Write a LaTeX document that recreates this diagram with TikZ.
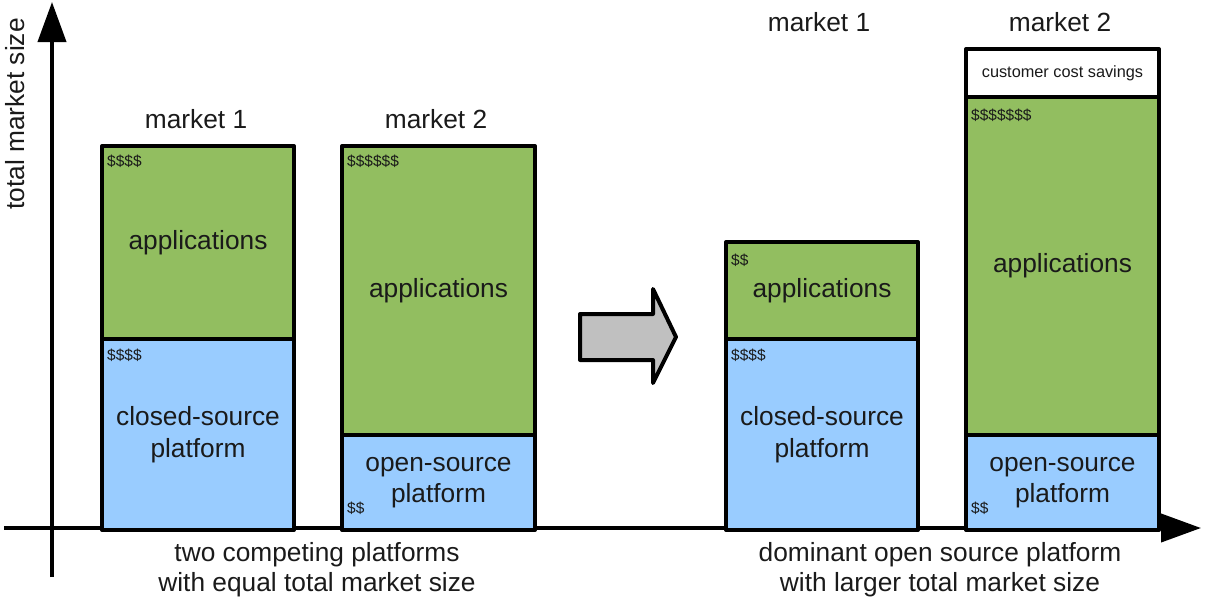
\documentclass[tikz,border=0pt]{standalone}
\usepackage{fontspec}
\setmainfont{Liberation Sans}
\usetikzlibrary{arrows.meta}
\definecolor{appgreen}{RGB}{146,190,96}
\definecolor{platblue}{RGB}{153,204,255}
\definecolor{arrowgrey}{RGB}{192,192,192}
\definecolor{txt}{RGB}{26,26,26}
\newcommand\mainsz{\fontsize{26.3}{31.5}\selectfont}
\newcommand\capsz{\fontsize{26.3}{30}\selectfont}
\newcommand\smallsz{\fontsize{15.5}{18}\selectfont}
\newcommand\savesz{\fontsize{16.3}{19}\selectfont}
\begin{document}
\begin{tikzpicture}[x=1pt,y=-1pt,
  seg/.style={draw=black,line width=4pt,line join=round,inner sep=0pt,
    anchor=north west,align=center,font=\mainsz,text=txt},
  app/.style={seg,fill=appgreen},
  plat/.style={seg,fill=platblue},
  dollars/.style={anchor=west,inner sep=0pt,font=\smallsz,text=txt},
  mlabel/.style={font=\mainsz,text=txt,inner sep=0pt},
  axis/.style={line width=4pt,-{Triangle[length=40pt,width=28pt]}},
  caption/.style={font=\capsz,text=txt,align=center,inner sep=0pt}]
\useasboundingbox (0,0) rectangle (1205,603);
% axes
\coordinate (yb) at (52,577);
\coordinate (yt) at (52,2);
\coordinate (xl) at (4,528);
\coordinate (xr) at (1201,528);
\draw[axis] (yb) -- (yt);
\draw[axis] (xl) -- (xr);
\node[mlabel,rotate=90] (ylab) at (15,114) {total market size};
% market 1 (left)
\node[app,minimum width=192pt,minimum height=193pt] (b1a) at (100,144) {applications};
\node[plat,minimum width=192pt,minimum height=191pt] (b1b) at (100,337) {closed-source\\platform};
% market 2 (left)
\node[app,minimum width=193pt,minimum height=289pt] (b2a) at (340,144) {applications};
\node[plat,minimum width=193pt,minimum height=95pt] (b2b) at (340,433) {open-source\\platform};
% market 1 (right)
\node[app,minimum width=192pt,minimum height=97pt] (b3a) at (724,240) {applications};
\node[plat,minimum width=192pt,minimum height=191pt] (b3b) at (724,337) {closed-source\\platform};
% market 2 (right)
\node[seg,fill=white,font=\savesz,minimum width=193pt,minimum height=48pt] (b4s) at (964,47) {customer cost savings};
\node[app,minimum width=193pt,minimum height=338pt] (b4a) at (964,95) {applications};
\node[plat,minimum width=193pt,minimum height=95pt] (b4b) at (964,433) {open-source\\platform};
% market labels
\node[mlabel] (m1) at (196,119) {market 1};
\node[mlabel] (m2) at (436,119) {market 2};
\node[mlabel] (m3) at (819,22) {market 1};
\node[mlabel] (m4) at (1060,22) {market 2};
% dollars
\node[dollars] (d1a) at (107,161) {\$\$\$\$};
\node[dollars] (d1b) at (107,355) {\$\$\$\$};
\node[dollars] (d2a) at (347,161) {\$\$\$\$\$\$};
\node[dollars] (d2b) at (347,508) {\$\$};
\node[dollars] (d3a) at (731,260) {\$\$};
\node[dollars] (d3b) at (731,355) {\$\$\$\$};
\node[dollars] (d4a) at (971,115) {\$\$\$\$\$\$\$};
\node[dollars] (d4b) at (971,508) {\$\$};
% transition arrow
\draw[fill=arrowgrey,line width=4pt,line join=round]
  (580,314) -- (653,314) -- (653,289) -- (676,337) -- (653,383) -- (653,360) -- (580,360) -- cycle;
% captions
\node[caption] (c1) at (317,570) {two competing platforms\\with equal total market size};
\node[caption] (c2) at (940,570) {dominant open source platform\\with larger total market size};
\end{tikzpicture}
\end{document}
